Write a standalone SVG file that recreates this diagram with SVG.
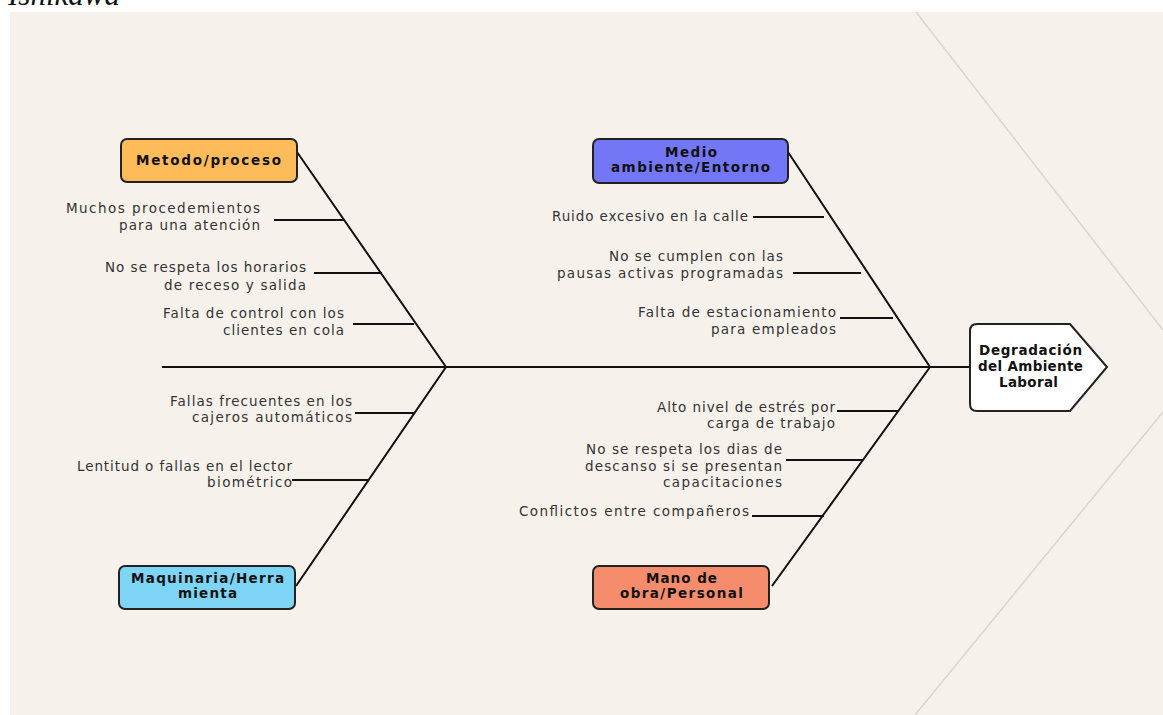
<svg xmlns="http://www.w3.org/2000/svg" width="1163" height="715" viewBox="0 0 1163 715">
<style>
.lbl{font-family:"DejaVu Sans","Open Sans",sans-serif;font-size:13.5px;fill:#333}
.hdr{font-family:"DejaVu Sans","Open Sans",sans-serif;font-size:13.5px;font-weight:700;fill:#111}
.box{stroke:#222;stroke-width:2}
.bone{stroke:#111;stroke-width:2;fill:none}
.sub{stroke:#111;stroke-width:1.8;fill:none}
.deco{stroke:#dcd7cb;stroke-width:1.6;fill:none}
</style>
<rect width="1163" height="715" fill="#ffffff"/>
<text x="8" y="5" font-family="Liberation Serif,serif" font-style="italic" font-size="31" fill="#111">Ishikawa</text>
<rect x="10" y="12" width="1153" height="703" fill="#f6f2eb"/>
<path class="deco" d="M916 12 L1163 330 M1163 412 L915 715"/>

<g id="connectors">
<path class="bone" d="M162 367 H970"/>
<path class="bone" d="M297 152 L446 367 L296 586"/>
<path class="bone" d="M788 152 L930 367 L772 586"/>
<path class="sub" d="M274 220 H344 M314 273 H382 M353 324 H414"/>
<path class="sub" d="M753 217 H824 M793 273 H861 M840 318 H893"/>
<path class="sub" d="M355 413 H415 M292 480 H369"/>
<path class="sub" d="M837 411 H898 M786 460 H863 M752 516 H824"/>
</g>

<g id="metodo">
<rect class="box" x="121" y="139" width="176" height="43" rx="6" fill="#fdbb5a"/>
<text class="hdr" x="136" y="165" textLength="145" lengthAdjust="spacing">Metodo/proceso</text>
</g>
<g id="medio">
<rect class="box" x="593" y="139" width="195" height="44" rx="6" fill="#7377f5"/>
<text class="hdr" x="665" y="157" textLength="52" lengthAdjust="spacing">Medio</text>
<text class="hdr" x="611" y="172" textLength="159" lengthAdjust="spacing">ambiente/Entorno</text>
</g>
<g id="maquinaria">
<rect class="box" x="119" y="566" width="176" height="43" rx="6" fill="#7dd4f5"/>
<text class="hdr" x="131" y="583" textLength="153" lengthAdjust="spacing">Maquinaria/Herra</text>
<text class="hdr" x="178" y="598" textLength="59" lengthAdjust="spacing">mienta</text>
</g>
<g id="mano">
<rect class="box" x="593" y="566" width="176" height="43" rx="6" fill="#f58d6c"/>
<text class="hdr" x="646" y="583" textLength="71" lengthAdjust="spacing">Mano de</text>
<text class="hdr" x="620" y="598" textLength="123" lengthAdjust="spacing">obra/Personal</text>
</g>
<g id="efecto">
<path class="box" fill="#ffffff" d="M977 324 H1070 L1107 367 L1070 411 H977 Q970 411 970 404 V331 Q970 324 977 324 Z"/>
<text class="hdr" x="979" y="355" textLength="103" lengthAdjust="spacing">Degradación</text>
<text class="hdr" x="978" y="371" textLength="105" lengthAdjust="spacing">del Ambiente</text>
<text class="hdr" x="999" y="387" textLength="59" lengthAdjust="spacing">Laboral</text>
</g>

<g id="causa-m1"><text class="lbl" x="66" y="213" textLength="194" lengthAdjust="spacing">Muchos procedemientos</text><text class="lbl" x="119" y="230" textLength="141" lengthAdjust="spacing">para una atención</text></g>
<g id="causa-m2"><text class="lbl" x="105" y="272" textLength="201" lengthAdjust="spacing">No se respeta los horarios</text><text class="lbl" x="164" y="290" textLength="142" lengthAdjust="spacing">de receso y salida</text></g>
<g id="causa-m3"><text class="lbl" x="163" y="318" textLength="181" lengthAdjust="spacing">Falta de control con los</text><text class="lbl" x="223" y="335" textLength="121" lengthAdjust="spacing">clientes en cola</text></g>

<g id="causa-e1"><text class="lbl" x="552" y="221" textLength="196" lengthAdjust="spacing">Ruido excesivo en la calle</text></g>
<g id="causa-e2"><text class="lbl" x="609" y="261" textLength="174" lengthAdjust="spacing">No se cumplen con las</text><text class="lbl" x="557" y="278" textLength="226" lengthAdjust="spacing">pausas activas programadas</text></g>
<g id="causa-e3"><text class="lbl" x="638" y="317" textLength="198" lengthAdjust="spacing">Falta de estacionamiento</text><text class="lbl" x="711" y="334" textLength="125" lengthAdjust="spacing">para empleados</text></g>

<g id="causa-q1"><text class="lbl" x="170" y="406" textLength="182" lengthAdjust="spacing">Fallas frecuentes en los</text><text class="lbl" x="192" y="422" textLength="160" lengthAdjust="spacing">cajeros automáticos</text></g>
<g id="causa-q2"><text class="lbl" x="77" y="471" textLength="215" lengthAdjust="spacing">Lentitud o fallas en el lector</text><text class="lbl" x="207" y="487" textLength="85" lengthAdjust="spacing">biométrico</text></g>

<g id="causa-p1"><text class="lbl" x="657" y="412" textLength="178" lengthAdjust="spacing">Alto nivel de estrés por</text><text class="lbl" x="707" y="428" textLength="128" lengthAdjust="spacing">carga de trabajo</text></g>
<g id="causa-p2"><text class="lbl" x="586" y="454" textLength="196" lengthAdjust="spacing">No se  respeta los dias de</text><text class="lbl" x="585" y="471" textLength="197" lengthAdjust="spacing">descanso si se presentan</text><text class="lbl" x="663" y="487" textLength="119" lengthAdjust="spacing">capacitaciones</text></g>
<g id="causa-p3"><text class="lbl" x="519" y="516" textLength="230" lengthAdjust="spacing">Conflictos entre compañeros</text></g>
</svg>
